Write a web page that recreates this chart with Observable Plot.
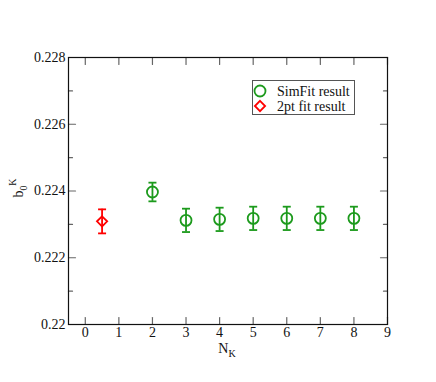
<!DOCTYPE html>
<html>
<head>
<meta charset="utf-8">
<script src="https://cdn.jsdelivr.net/npm/d3@7"></script>
<script src="https://cdn.jsdelivr.net/npm/@observablehq/plot@0.6"></script>
<style>
  html, body { margin: 0; padding: 0; background: #fff; }
  #chart { width: 436px; height: 382px; }
</style>
</head>
<body>
<div id="chart"></div>
<script>
// ---- data ----
const simN   = [2, 3, 4, 5, 6, 7, 8];
const simVal = [0.22397, 0.22312, 0.22315, 0.22318, 0.22318, 0.22318, 0.22318];
const simErr = [0.00028, 0.00035, 0.00035, 0.00035, 0.00035, 0.00035, 0.00035];
const ptN    = [0.5];
const ptVal  = [0.22309];
const ptErr  = [0.00036];

const xTicks = [0, 1, 2, 3, 4, 5, 6, 7, 8, 9];
const yTicks = [0.220, 0.222, 0.224, 0.226, 0.228];
const yMinor = [0.221, 0.223, 0.225, 0.227];
const xDomain = [-0.5, 9];
const yDomain = [0.220, 0.228];

const legendLabels = ["SimFit result", "2pt fit result"];

// ---- styling ----
const GREEN = "#1c9a1c";
const RED = "#ff0000";
const FONT = "'Liberation Serif', 'Times New Roman', serif";

const sim = simN.map((n, i) => ({n, y: simVal[i], e: simErr[i]}));
const pt = ptN.map((n, i) => ({n, y: ptVal[i], e: ptErr[i]}));

const tickShape = {draw(context, l) { context.moveTo(0, 0); context.lineTo(0, -l); }};
const capSymbol = {draw(context) { context.moveTo(-4, 0); context.lineTo(4, 0); }};

function tickMarks(data, channel, frameAnchor, rotate, length) {
  const opts = {frameAnchor, rotate, length, anchor: "start", shape: tickShape, stroke: "#666", strokeWidth: 1.2};
  opts[channel] = d => d;
  return Plot.vector(data, opts);
}

function errorMarks(data, color, symbol, r) {
  return [
    Plot.ruleX(data, {x: "n", y1: d => d.y - d.e, y2: d => d.y + d.e, stroke: color, strokeWidth: 1.8}),
    Plot.dot(data, {x: "n", y: d => d.y - d.e, symbol: capSymbol, stroke: color, strokeWidth: 1.8}),
    Plot.dot(data, {x: "n", y: d => d.y + d.e, symbol: capSymbol, stroke: color, strokeWidth: 1.8}),
    Plot.dot(data, {x: "n", y: "y", symbol, r, stroke: color, fill: "none", strokeWidth: 1.8})
  ];
}

const chart = Plot.plot({
  width: 436,
  height: 382,
  marginLeft: 68,
  marginRight: 49,
  marginTop: 57,
  marginBottom: 58,
  style: {fontFamily: FONT, fontSize: "14px", color: "#111", background: "#fff"},
  x: {domain: xDomain},
  y: {domain: yDomain},
  marks: [
    Plot.axisX(xTicks, {tickSize: 0, tickPadding: 3, label: null, tickFormat: d3.format("d"), fontSize: 14}),
    Plot.axisY(yTicks, {tickSize: 0, tickPadding: 3, label: null, tickFormat: d3.format("~g"), fontSize: 14}),
    tickMarks(xTicks, "x", "bottom", 0, 7),
    tickMarks(xTicks, "x", "top", 180, 7),
    tickMarks(yTicks, "y", "left", 90, 7),
    tickMarks(yTicks, "y", "right", 270, 7),
    tickMarks(yMinor, "y", "left", 90, 4),
    tickMarks(yMinor, "y", "right", 270, 4),
    Plot.frame({stroke: "#111", strokeWidth: 1.2}),
    ...errorMarks(sim, GREEN, "circle", 5.5),
    ...errorMarks(pt, RED, "diamond2", 4.6)
  ]
});

document.getElementById("chart").appendChild(chart);

// ---- axis labels with sub/superscripts ----
const svg = d3.select(chart);
const xl = svg.append("text")
  .attr("x", 227).attr("y", 353)
  .attr("text-anchor", "middle")
  .style("font-family", FONT).style("font-size", "14px").attr("fill", "#111");
xl.append("tspan").text("N");
xl.append("tspan").attr("dy", 4).style("font-size", "10px").text("K");

const yl = svg.append("text")
  .attr("transform", "translate(23,188) rotate(-90)")
  .attr("text-anchor", "middle")
  .style("font-family", FONT).style("font-size", "14px").attr("fill", "#111");
yl.append("tspan").text("b");
yl.append("tspan").attr("dy", 4).style("font-size", "10px").text("0");
yl.append("tspan").attr("dy", -11).style("font-size", "10px").text("K");

// ---- legend ----
const lg = svg.append("g").attr("text-anchor", "start");
lg.append("rect").attr("x", 252.5).attr("y", 80.5).attr("width", 102).attr("height", 34)
  .attr("fill", "#fff").attr("stroke", "#555").attr("stroke-width", 1);
const entries = [
  {label: legendLabels[0], color: GREEN, sym: d3.symbolCircle, size: Math.PI * 5.5 * 5.5},
  {label: legendLabels[1], color: RED, sym: d3.symbolDiamond2, size: Math.PI * 4.6 * 4.6}
];
entries.forEach((e, i) => {
  const cy = 91 + i * 15;
  lg.append("path").attr("d", d3.symbol(e.sym, e.size)())
    .attr("transform", `translate(260,${cy})`)
    .attr("fill", "none").attr("stroke", e.color).attr("stroke-width", 1.8);
  lg.append("text").attr("x", 277).attr("y", cy + 5)
    .attr("text-anchor", "start")
    .style("font-family", FONT).style("font-size", "14px").attr("fill", "#111")
    .text(e.label);
});
</script>
</body>
</html>
